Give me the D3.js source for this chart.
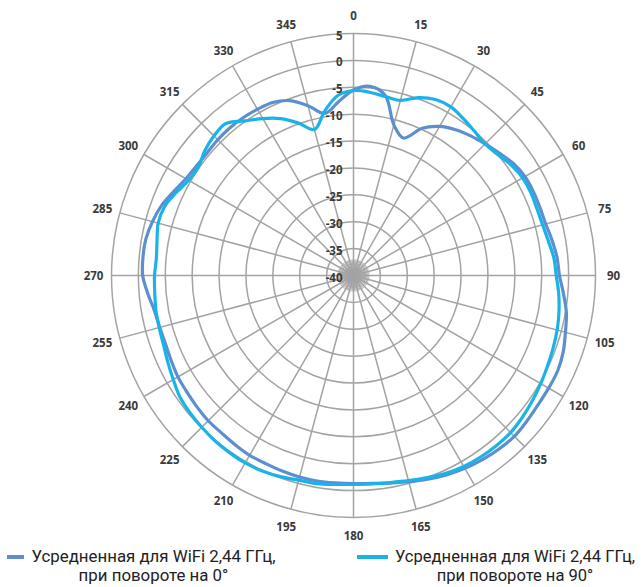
<!DOCTYPE html>
<html><head><meta charset="utf-8">
<script src="https://cdn.jsdelivr.net/npm/d3@7"></script>
<style>
html,body{margin:0;padding:0;background:#fff;}
svg{display:block;}
</style></head>
<body>
<svg id="chart" width="642" height="587"></svg>
<script>
// ---- data ----
const angles = [0,5,10,15,20,25,30,35,40,45,50,55,60,65,70,75,80,85,90,95,100,105,110,115,120,125,130,135,140,145,150,155,160,165,170,175,180,185,190,195,200,205,210,215,220,225,230,235,240,245,250,255,260,265,270,275,280,285,290,295,300,305,310,315,320,325,330,335,340,345,350,355];
const series0 = [-5.5,-4.7,-6.0,-11.0,-12.8,-9.8,-8.0,-6.9,-6.1,-5.4,-4.6,-3.7,-3.2,-3.1,-3.1,-3.0,-2.5,-2.0,-1.7,-0.8,0.2,0.8,1.5,1.9,1.9,1.9,2.1,2.3,2.1,1.8,1.4,0.9,0.3,-0.3,-0.8,-1.2,-1.3,-1.3,-1.2,-1.2,-1.3,-1.4,-1.4,-1.6,-1.8,-1.8,-2.0,-2.2,-2.3,-2.6,-2.8,-2.7,-2.4,-1.6,-0.8,-0.7,-0.8,-1.3,-2.0,-3.1,-4.0,-4.4,-4.5,-4.3,-4.2,-4.2,-4.3,-4.5,-5.4,-7.3,-9.4,-7.6];
const series90 = [-5.6,-5.8,-6.2,-6.3,-4.8,-3.9,-3.8,-4.4,-5.0,-5.4,-5.0,-4.2,-3.7,-3.6,-3.7,-3.6,-3.2,-2.6,-2.3,-1.7,-1.2,-0.8,-0.5,-0.2,0.2,0.6,1.0,1.3,1.3,1.2,1.0,0.6,0.0,-0.5,-0.9,-1.1,-1.15,-1.0,-0.7,-0.6,-0.2,0.1,0.25,0.2,0.1,-0.1,-0.3,-0.6,-1.3,-1.9,-2.4,-2.6,-2.7,-2.9,-3.0,-3.2,-2.9,-2.4,-2.6,-3.6,-4.6,-4.8,-3.9,-3.3,-3.1,-4.9,-6.3,-7.8,-9.8,-11.9,-9.0,-6.4];
const ringTicks = [5,0,-5,-10,-15,-20,-25,-30,-35,-40];
const spokeAngles = [0,15,30,45,60,75,90,105,120,135,150,165,180,195,210,225,240,255,270,285,300,315,330,345];
const seriesNames = ["Усредненная для WiFi 2,44 ГГц,", "при повороте на 0°", "при повороте на 90°"];
const colors = ["#5b8fd0", "#19b3ea"];

// ---- layout ----
const cx = 353.5, cy = 275.5, R = 242;
const svg = d3.select("#chart");
const r = d3.scaleLinear().domain([-40, 5]).range([0, R]);
const g = svg.append("g").attr("transform", `translate(${cx},${cy})`);
const rad = a => a * Math.PI / 180;

// hub (dense spokes near the centre)
const defs = svg.append("defs");
const gr = defs.append("radialGradient").attr("id", "hub");
gr.append("stop").attr("offset", "0%").attr("stop-color", "#8a8a8a").attr("stop-opacity", 1);
gr.append("stop").attr("offset", "60%").attr("stop-color", "#a0a0a0").attr("stop-opacity", 0.8);
gr.append("stop").attr("offset", "100%").attr("stop-color", "#c0c0c0").attr("stop-opacity", 0);
g.append("circle").attr("r", r(-38)).attr("fill", "url(#hub)");
g.selectAll("line.fine").data(d3.range(0, 360, 5)).enter().append("line")
  .attr("x1", 0).attr("y1", 0)
  .attr("x2", d => r(-37) * Math.sin(rad(d))).attr("y2", d => -r(-37) * Math.cos(rad(d)))
  .attr("stroke", "#aaa").attr("stroke-width", 1);

// rings
g.selectAll("circle.ring").data(ringTicks.filter(d => d > -40)).enter()
  .append("circle").attr("r", d => r(d))
  .attr("fill", "none").attr("stroke", "#a3a3a3").attr("stroke-width", 1.5);
// spokes
g.selectAll("line.spoke").data(spokeAngles).enter().append("line")
  .attr("x1", 0).attr("y1", 0)
  .attr("x2", d => R * Math.sin(rad(d))).attr("y2", d => -R * Math.cos(rad(d)))
  .attr("stroke", "#a3a3a3").attr("stroke-width", 1.5);

// angle labels
g.selectAll("text.ang").data(spokeAngles).enter().append("text")
  .attr("x", d => 260 * Math.sin(rad(d)))
  .attr("y", d => -260 * Math.cos(rad(d)))
  .attr("text-anchor", "middle").attr("dominant-baseline", "central")
  .attr("font-family", "'Open Sans', sans-serif").attr("font-weight", "bold")
  .attr("font-size", 11.5).attr("fill", "#3a3a3a")
  .text(d => d);

// series
const line = d3.lineRadial()
  .angle((d, i) => rad(angles[i]))
  .radius(d => r(d))
  .curve(d3.curveCatmullRomClosed.alpha(0.5));
[series0, series90].forEach((s, k) => {
  g.append("path").attr("d", line(s))
    .attr("fill", "none").attr("stroke", colors[k]).attr("stroke-width", 3.2)
    .attr("stroke-linejoin", "round");
});

// ring labels
g.selectAll("text.rl").data(ringTicks).enter().append("text")
  .attr("x", -11).attr("y", d => -r(d) + 1.5)
  .attr("text-anchor", "end").attr("dominant-baseline", "central")
  .attr("font-family", "'Open Sans', sans-serif").attr("font-weight", "bold")
  .attr("font-size", 11.5).attr("fill", "#3a3a3a")
  .text(d => d);

// legend
const leg = [
  {mx1: 7, mx2: 24, tx: 31.5, w: 244, l2: seriesNames[1], c: colors[0]},
  {mx1: 357, mx2: 388, tx: 395, w: 240, l2: seriesNames[2], c: colors[1]}
];
leg.forEach(L => {
  svg.append("line").attr("x1", L.mx1).attr("x2", L.mx2).attr("y1", 557).attr("y2", 557)
    .attr("stroke", L.c).attr("stroke-width", 4);
  const t1 = svg.append("text").attr("x", L.tx).attr("y", 562)
    .attr("font-family", "Roboto, sans-serif").attr("font-size", 16).attr("fill", "#222")
    .text(seriesNames[0]);
  const n1 = t1.node().getComputedTextLength();
  const f = L.w / n1;
  t1.attr("textLength", L.w).attr("lengthAdjust", "spacingAndGlyphs");
  const t2 = svg.append("text").attr("y", 581)
    .attr("font-family", "Roboto, sans-serif").attr("font-size", 16).attr("fill", "#222")
    .text(L.l2);
  const n2 = t2.node().getComputedTextLength() * f;
  t2.attr("x", L.tx + L.w / 2 - n2 / 2).attr("textLength", n2).attr("lengthAdjust", "spacingAndGlyphs");
});
</script>
</body></html>
